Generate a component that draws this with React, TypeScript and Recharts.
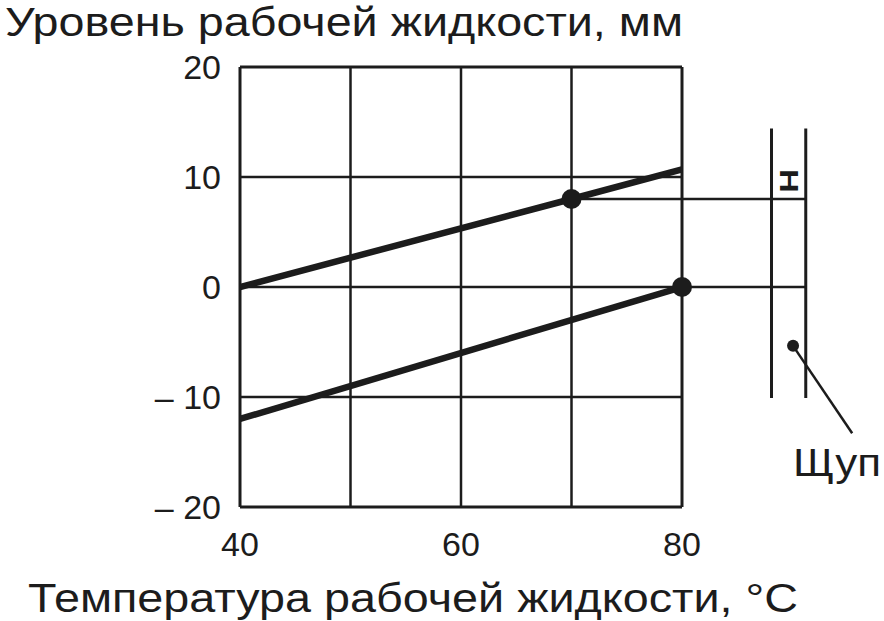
import React from 'react';
import { ComposedChart, Line, XAxis, YAxis, ReferenceLine, ReferenceDot } from 'recharts';

// Data
const upperLine = [
  { t: 40, level: 0 },
  { t: 70, level: 8 },
  { t: 80, level: 10.7 },
];
const lowerLine = [
  { t: 40, level: -12 },
  { t: 80, level: 0 },
];
const xTicks = [40, 60, 80];
const yTicks = [-20, -10, 0, 10, 20];
const xGrid = [40, 50, 60, 70, 80];
const yGrid = [-20, -10, 0, 10, 20];
const hotMark = { t: 70, level: 8 };
const coldMark = { t: 80, level: 0 };
const dipstickX = [88.1, 91.2];
const dipstickTop = 14.4;
const dipstickBottom = -10.1;
const probeDot = { t: 90.05, level: -5.35 };
const probeLeaderEnd = { t: 95.4, level: -13.3 };

const yTitle = 'Уровень рабочей жидкости, мм';
const xTitle = 'Температура рабочей жидкости, °С';
const probeName = 'Щуп';
const markName = 'H';

const INK = '#1c1c1c';
const FONT = '"Liberation Sans", Arial, sans-serif';

const fmtY = (v: number) => (v < 0 ? `– ${Math.abs(v)}` : `${v}`);

export default function App() {
  return (
    <div style={{ position: 'absolute', left: 0, top: 0, width: 884, height: 621, background: '#fff' }}>
      <ComposedChart
        width={884}
        height={621}
        margin={{ top: 67, right: 202, bottom: 54, left: 180 }}
      >
        <XAxis
          dataKey="t"
          type="number"
          domain={[40, 80]}
          ticks={xTicks}
          allowDataOverflow
          axisLine={false}
          tickLine={false}
          tickSize={0}
          tickMargin={25}
          height={60}
          tick={{ fill: INK, fontSize: 34, fontFamily: FONT }}
          interval={0}
        />
        <YAxis
          type="number"
          domain={[-20, 20]}
          ticks={yTicks}
          allowDataOverflow
          axisLine={false}
          tickLine={false}
          tickSize={0}
          tickMargin={19}
          width={60}
          tickFormatter={fmtY}
          tick={{ fill: INK, fontSize: 34, fontFamily: FONT }}
          interval={0}
        />
        {xGrid.map((x) => (
          <ReferenceLine key={`gx${x}`} x={x} stroke={INK} strokeWidth={x === 40 || x === 80 ? 3 : 2.5} ifOverflow="visible" />
        ))}
        {yGrid.map((y) => (
          <ReferenceLine key={`gy${y}`} y={y} stroke={INK} strokeWidth={y === 20 || y === -20 ? 3 : 2.5} ifOverflow="visible" />
        ))}
        <ReferenceLine
          segment={[{ x: hotMark.t, y: hotMark.level }, { x: dipstickX[1], y: hotMark.level }]}
          stroke={INK}
          strokeWidth={2.5}
          ifOverflow="visible"
        />
        <ReferenceLine
          segment={[{ x: coldMark.t, y: coldMark.level }, { x: dipstickX[1], y: coldMark.level }]}
          stroke={INK}
          strokeWidth={2.5}
          ifOverflow="visible"
        />
        {dipstickX.map((x) => (
          <ReferenceLine
            key={`ds${x}`}
            segment={[{ x, y: dipstickTop }, { x, y: dipstickBottom }]}
            stroke={INK}
            strokeWidth={3}
            ifOverflow="visible"
          />
        ))}
        <ReferenceLine
          segment={[{ x: probeDot.t, y: probeDot.level }, { x: probeLeaderEnd.t, y: probeLeaderEnd.level }]}
          stroke={INK}
          strokeWidth={2.5}
          ifOverflow="visible"
        />
        <Line
          data={upperLine}
          dataKey="level"
          stroke={INK}
          strokeWidth={6.5}
          dot={false}
          activeDot={false}
          isAnimationActive={false}
          strokeLinecap="butt"
        />
        <Line
          data={lowerLine}
          dataKey="level"
          stroke={INK}
          strokeWidth={6.5}
          dot={false}
          activeDot={false}
          isAnimationActive={false}
          strokeLinecap="butt"
        />
        <ReferenceDot x={hotMark.t} y={hotMark.level} r={10} fill={INK} stroke="none" ifOverflow="visible" />
        <ReferenceDot x={coldMark.t} y={coldMark.level} r={10} fill={INK} stroke="none" ifOverflow="visible" />
        <ReferenceDot x={probeDot.t} y={probeDot.level} r={6} fill={INK} stroke="none" ifOverflow="visible" />
      </ComposedChart>
      <svg
        width={884}
        height={621}
        style={{ position: 'absolute', left: 0, top: 0, pointerEvents: 'none' }}
      >
        <text x={5} y={36} fontSize={40} fontFamily={FONT} fill={INK} textLength={678} lengthAdjust="spacingAndGlyphs">
          {yTitle}
        </text>
        <text x={28} y={612} fontSize={40} fontFamily={FONT} fill={INK} textLength={770} lengthAdjust="spacingAndGlyphs">
          {xTitle}
        </text>
        <text x={793} y={476} fontSize={38} fontFamily={FONT} fill={INK} textLength={88} lengthAdjust="spacingAndGlyphs">
          {probeName}
        </text>
        <text
          x={0}
          y={0}
          fontSize={30}
          fontWeight="bold"
          fontFamily={FONT}
          fill={INK}
          textAnchor="middle"
          dominantBaseline="central"
          transform="translate(789 181) rotate(90) scale(1.1 0.85)"
        >
          {markName}
        </text>
      </svg>
    </div>
  );
}
